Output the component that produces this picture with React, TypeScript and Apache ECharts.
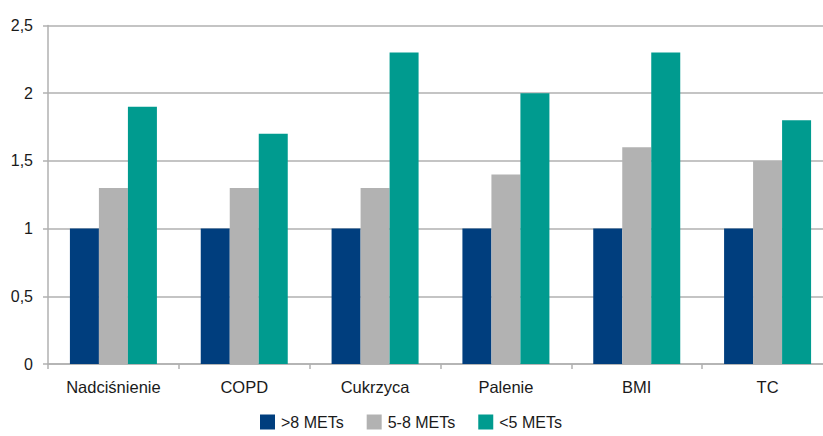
import React, { useEffect, useRef } from "react";
import * as echarts from "echarts";

const categories = ["Nadciśnienie", "COPD", "Cukrzyca", "Palenie", "BMI", "TC"];
const seriesNames = [">8 METs", "5-8 METs", "<5 METs"];
const over8 = [1, 1, 1, 1, 1, 1];
const from5to8 = [1.3, 1.3, 1.3, 1.4, 1.6, 1.5];
const under5 = [1.9, 1.7, 2.3, 2.0, 2.3, 1.8];
const colors = ["#003e7e", "#b2b2b2", "#009b8f"];

const FONT = "'Liberation Sans', Arial, sans-serif";

export default function App() {
  const ref = useRef<HTMLDivElement>(null);
  useEffect(() => {
    if (!ref.current) return;
    const chart = echarts.init(ref.current, undefined, { renderer: "svg" });
    const values = [over8, from5to8, under5];
    chart.setOption({
      animation: false,
      textStyle: { fontFamily: FONT },
      grid: { left: 48, right: 12, top: 25.5, bottom: 72, containLabel: false },
      legend: {
        left: 260,
        top: 414,
        padding: 0,
        itemWidth: 15,
        itemHeight: 15,
        itemGap: 23,
        icon: "rect",
        textStyle: { fontFamily: FONT, fontSize: 16, lineHeight: 16, color: "#1a1a1a", padding: [0, 0, 0, 1] },
        data: seriesNames,
      },
      xAxis: {
        type: "category",
        data: categories,
        axisLine: { lineStyle: { color: "#b0b0b0", width: 1.5 } },
        axisTick: { show: true, length: 5, alignWithLabel: false, lineStyle: { color: "#b0b0b0", width: 1.5 } },
        axisLabel: { interval: 0, fontFamily: FONT, fontSize: 16.5, color: "#1a1a1a", margin: 14 },
      },
      yAxis: {
        type: "value",
        min: 0,
        max: 2.5,
        interval: 0.5,
        axisLine: { show: true, lineStyle: { color: "#b0b0b0", width: 1.5 } },
        axisTick: { show: true, length: 5, lineStyle: { color: "#b0b0b0", width: 1.5 } },
        splitLine: { show: true, lineStyle: { color: "#b0b0b0", width: 1.5 } },
        axisLabel: {
          fontFamily: FONT,
          fontSize: 16,
          color: "#1a1a1a",
          margin: 15,
          formatter: (v: number) => String(v).replace(".", ","),
        },
      },
      series: seriesNames.map((name, i) => ({
        name,
        type: "bar",
        data: values[i],
        barGap: "0%",
        barCategoryGap: "33.5%",
        itemStyle: { color: colors[i] },
      })),
    });
    return () => chart.dispose();
  }, []);
  return (
    <div style={{ position: "fixed", left: 0, top: 0, width: 823, height: 436, overflow: "hidden", background: "#fff" }}>
      <div ref={ref} style={{ width: 845, height: 436 }} />
    </div>
  );
}
